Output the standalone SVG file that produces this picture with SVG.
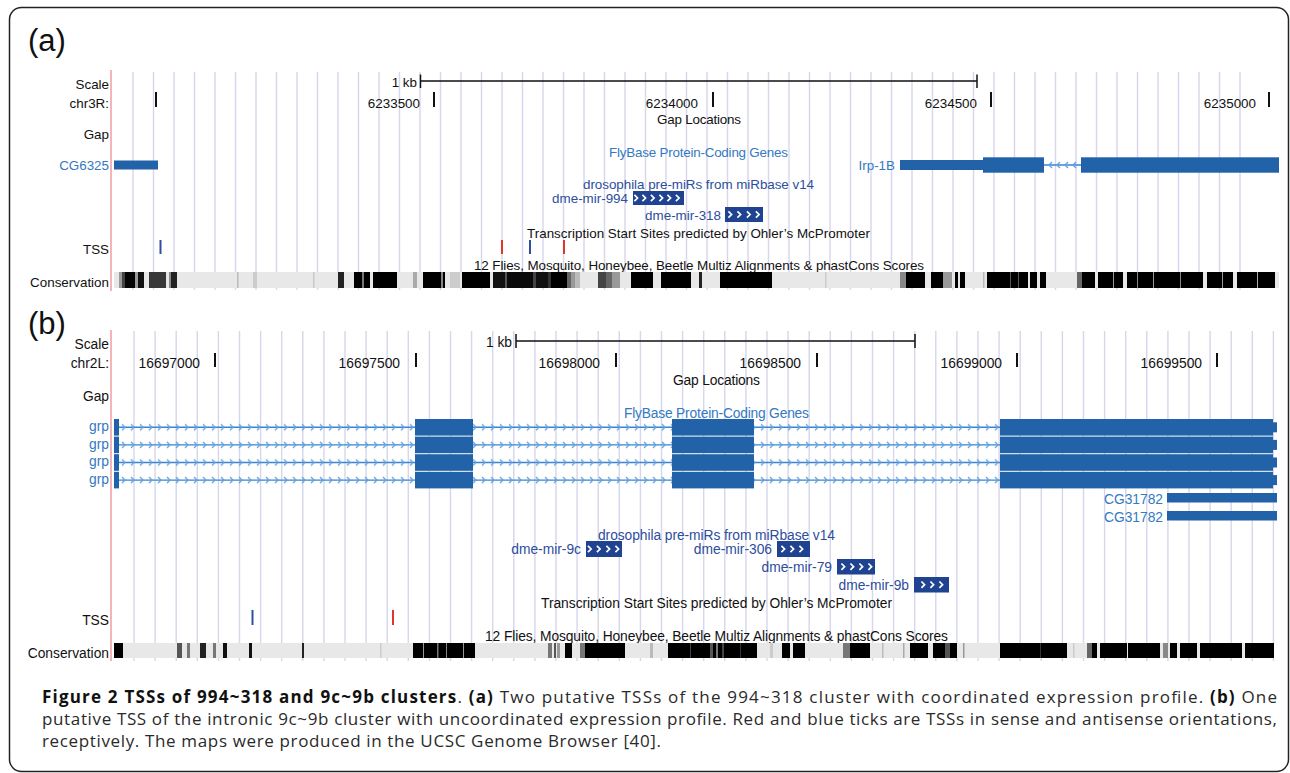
<svg xmlns="http://www.w3.org/2000/svg" width="1290" height="773" viewBox="0 0 1290 773">
<style>
text{font-family:"Liberation Sans",Arial,sans-serif;fill:#111}
.a{font-size:13.4px}
.b{font-size:13.8px}
.end{text-anchor:end}
.mid{text-anchor:middle}
.lb{fill:#3479c2}
.mb{fill:#2d4d9d}
.exon{fill:#2262a8}
.mir{fill:#1f4391}
.grid{stroke:#d6d6ec;stroke-width:1.4;fill:none}
.redl{stroke:#f2a3a8;stroke-width:1.6}
.tick{stroke:#111;stroke-width:2}
.bar{stroke:#111;stroke-width:1.5;fill:none}
.tssR{stroke:#e3342c;stroke-width:2}
.tssB{stroke:#2f4fa3;stroke-width:2}
.chv{stroke:#fff;stroke-width:1.7;fill:none;stroke-linejoin:miter}
.intron{stroke:#3d82cc;stroke-width:1.4}
.cap{font-family:"Open Sans","Liberation Sans",sans-serif;font-size:17px;fill:#2a2a2a}
.bold{font-weight:bold;fill:#111}
</style>
<defs>
<path id="chv" class="chv" d="M-1.6,-3.2 L1.6,0 L-1.6,3.2"/>
<pattern id="chevR" patternUnits="userSpaceOnUse" x="119" y="-4" width="9" height="8">
<path d="M3,1 L6,4 L3,7" stroke="#5ea2e2" stroke-width="1.3" fill="none"/>
</pattern>
<g id="grpTx">
<line class="intron" x1="119" y1="0" x2="1000" y2="0"/>
<rect x="119" y="-4" width="296" height="8" fill="url(#chevR)"/>
<rect x="473" y="-4" width="199" height="8" fill="url(#chevR)"/>
<rect x="754" y="-4" width="246" height="8" fill="url(#chevR)"/>
<rect class="exon" x="114" y="-8.3" width="5" height="16.6"/>
<rect class="exon" x="415" y="-8.3" width="58" height="16.6"/>
<rect class="exon" x="672" y="-8.3" width="82" height="16.6"/>
<rect class="exon" x="1000" y="-8.3" width="273" height="16.6"/>
<rect class="exon" x="1273" y="-5" width="4" height="10"/>
</g>
</defs>
<rect x="0" y="0" width="1290" height="773" fill="#fff"/>
<rect x="9.5" y="7.5" width="1279" height="764" rx="12" fill="none" stroke="#222" stroke-width="1.5"/>

<!-- ================= PANEL A ================= -->
<g id="panel-a">
<text x="28" y="50.5" style="font-size:31px">(a)</text>
<path class="grid" d="M133,72v218m20.5-218v218m20.5-218v218m20.5-218v218m20.5-218v218m20.5-218v218m20.5-218v218m20.5-218v218m20.5-218v218m20.5-218v218m20.5-218v218m20.5-218v218m20.5-218v218m20.5-218v218m20.5-218v218m20.5-218v218m20.5-218v218m20.5-218v218m20.5-218v218m20.5-218v218m20.5-218v218m20.5-218v218m20.5-218v218m20.5-218v218m20.5-218v218m20.5-218v218m20.5-218v218m20.5-218v218m20.5-218v218m20.5-218v218m20.5-218v218m20.5-218v218m20.5-218v218m20.5-218v218m20.5-218v218m20.5-218v218m20.5-218v218m20.5-218v218m20.5-218v218m20.5-218v218m20.5-218v218m20.5-218v218m20.5-218v218m20.5-218v218m20.5-218v218m20.5-218v218m20.5-218v218m20.5-218v218m20.5-218v218m20.5-218v218m20.5-218v218m20.5-218v218m20.5-218v218m20.5-218v218m20.5-218v218"/>
<line class="redl" x1="111" y1="70" x2="111" y2="291"/>

<g id="labels-a" class="a">
<text class="end" x="109" y="89">Scale</text>
<text class="end" x="109" y="108">chr3R:</text>
<text class="end" x="109" y="139">Gap</text>
<text class="end lb" x="109" y="170">CG6325</text>
<text class="end" x="109" y="254">TSS</text>
<text class="end" x="109" y="287">Conservation</text>
</g>

<g id="scale-a">
<text class="a end" x="417" y="87">1 kb</text>
<path class="bar" d="M420.5,74.5V88M420.5,81H977M977,74.5V88"/>
<line class="tick" x1="156" y1="92" x2="156" y2="107"/>
<text class="a end" x="420" y="107.5">6233500</text>
<line class="tick" x1="434" y1="92" x2="434" y2="107"/>
<text class="a end" x="698" y="107.5">6234000</text>
<line class="tick" x1="713" y1="92" x2="713" y2="107"/>
<text class="a end" x="977" y="107.5">6234500</text>
<line class="tick" x1="991" y1="92" x2="991" y2="107"/>
<text class="a end" x="1256" y="107.5">6235000</text>
<line class="tick" x1="1269" y1="92" x2="1269" y2="107"/>
</g>

<text class="a mid" x="699" y="124" textLength="84">Gap Locations</text>

<g id="genes-a">
<text class="a mid lb" x="698.5" y="157" textLength="179">FlyBase Protein-Coding Genes</text>
<rect class="exon" x="114" y="160.5" width="44" height="9"/>
<text class="a end lb" x="895" y="170">Irp-1B</text>
<rect class="exon" x="900" y="160" width="83" height="10"/>
<rect class="exon" x="983" y="157.3" width="61" height="15.4"/>
<line class="intron" x1="1044" y1="165" x2="1081" y2="165"/>
<path d="M1052,162 L1049,165 L1052,168 M1060,162 L1057,165 L1060,168 M1068,162 L1065,165 L1068,168 M1076,162 L1073,165 L1076,168" stroke="#5ea2e2" stroke-width="1.3" fill="none"/>
<rect class="exon" x="1081" y="157.3" width="198" height="15.4"/>
</g>

<g id="mirs-a">
<text class="a mid mb" x="698.5" y="189" textLength="231">drosophila pre-miRs from miRbase v14</text>
<g id="mir-994">
<text class="a end mb" x="628" y="203">dme-mir-994</text>
<rect class="mir" x="633" y="191" width="51" height="14"/>
<use href="#chv" x="636" y="198"/><use href="#chv" x="644" y="198"/><use href="#chv" x="652.5" y="198"/><use href="#chv" x="661" y="198"/><use href="#chv" x="669" y="198"/><use href="#chv" x="677.5" y="198"/>
</g>
<g id="mir-318">
<text class="a end mb" x="721" y="220">dme-mir-318</text>
<rect class="mir" x="725" y="207" width="38" height="15"/>
<use href="#chv" x="730" y="214.5"/><use href="#chv" x="739" y="214.5"/><use href="#chv" x="748.5" y="214.5"/><use href="#chv" x="757.5" y="214.5"/>
</g>
</g>

<g id="tss-a">
<text class="a mid" x="698.5" y="238" textLength="343">Transcription Start Sites predicted by Ohler’s McPromoter</text>
<line class="tssB" x1="160.5" y1="240" x2="160.5" y2="254"/>
<line class="tssR" x1="502" y1="240" x2="502" y2="254"/>
<line class="tssB" x1="530" y1="240" x2="530" y2="254"/>
<line class="tssR" x1="564" y1="240" x2="564" y2="254"/>
</g>

<text class="a mid" x="699" y="270" textLength="450">12 Flies, Mosquito, Honeybee, Beetle Multiz Alignments &amp; phastCons Scores</text>

<g id="cons-a" transform="translate(0,272)">
<rect x="114" y="0" width="1165" height="16" fill="#e8e8e8"/>
<rect x="119" y="0" width="3" height="16" fill="#999"/>
<rect x="122" y="0" width="3" height="16" fill="#444"/>
<rect x="125" y="0" width="10" height="16" fill="#050505"/>
<rect x="135" y="0" width="3" height="16" fill="#999"/>
<rect x="138" y="0" width="6" height="16" fill="#111"/>
<rect x="149" y="0" width="17" height="16" fill="#383838"/>
<rect x="169" y="0" width="2" height="16" fill="#888"/>
<rect x="171" y="0" width="6" height="16" fill="#222"/>
<rect x="237" y="0" width="1.5" height="16" fill="#bbb"/>
<rect x="253" y="0" width="4" height="16" fill="#ccc"/>
<rect x="313" y="0" width="1.5" height="16" fill="#c8c8c8"/>
<rect x="338" y="0" width="6" height="16" fill="#222"/>
<rect x="354" y="0" width="8" height="16" fill="#000"/>
<rect x="362" y="0" width="2" height="16" fill="#777"/>
<rect x="364" y="0" width="6" height="16" fill="#000"/>
<rect x="373" y="0" width="24" height="16" fill="#000"/>
<rect x="413" y="0" width="4" height="16" fill="#aaa"/>
<rect x="423" y="0" width="18" height="16" fill="#000"/>
<rect x="441" y="0" width="2" height="16" fill="#888"/>
<rect x="443" y="0" width="2" height="16" fill="#000"/>
<rect x="450" y="0" width="10" height="16" fill="#ccc"/>
<rect x="462" y="0" width="28" height="16" fill="#000"/>
<rect x="493" y="0" width="12" height="16" fill="#111"/>
<rect x="505" y="0" width="2" height="16" fill="#555"/>
<rect x="507" y="0" width="26" height="16" fill="#0a0a0a"/>
<rect x="533" y="0" width="3" height="16" fill="#444"/>
<rect x="536" y="0" width="12" height="16" fill="#111"/>
<rect x="548" y="0" width="3" height="16" fill="#333"/>
<rect x="551" y="0" width="16" height="16" fill="#000"/>
<rect x="567" y="0" width="4" height="16" fill="#666"/>
<rect x="571" y="0" width="4" height="16" fill="#999"/>
<rect x="575" y="0" width="5" height="16" fill="#bbb"/>
<rect x="598" y="0" width="8" height="16" fill="#444"/>
<rect x="606" y="0" width="6" height="16" fill="#666"/>
<rect x="612" y="0" width="8" height="16" fill="#999"/>
<rect x="631" y="0" width="22" height="16" fill="#000"/>
<rect x="661" y="0" width="30" height="16" fill="#000"/>
<rect x="699" y="0" width="3" height="16" fill="#222"/>
<rect x="720" y="0" width="52" height="16" fill="#000"/>
<rect x="825" y="0" width="1.5" height="16" fill="#ccc"/>
<rect x="900" y="0" width="6" height="16" fill="#888"/>
<rect x="906" y="0" width="19" height="16" fill="#000"/>
<rect x="931" y="0" width="12" height="16" fill="#000"/>
<rect x="943" y="0" width="9" height="16" fill="#999"/>
<rect x="955" y="0" width="3" height="16" fill="#000"/>
<rect x="960" y="0" width="5" height="16" fill="#000"/>
<rect x="983" y="0" width="1.5" height="16" fill="#bbb"/>
<rect x="987" y="0" width="41" height="16" fill="#000"/>
<rect x="1010" y="0" width="1" height="16" fill="#555"/>
<rect x="1018" y="0" width="1" height="16" fill="#555"/>
<rect x="1030" y="0" width="7" height="16" fill="#000"/>
<rect x="1040" y="0" width="6" height="16" fill="#000"/>
<rect x="1077" y="0" width="5" height="16" fill="#666"/>
<rect x="1082" y="0" width="13" height="16" fill="#000"/>
<rect x="1098" y="0" width="25" height="16" fill="#000"/>
<rect x="1127" y="0" width="76" height="16" fill="#000"/>
<rect x="1207" y="0" width="26" height="16" fill="#000"/>
<rect x="1237" y="0" width="38" height="16" fill="#000"/>
<rect x="1113" y="0" width="1" height="16" fill="#999"/>
<rect x="1137" y="0" width="1" height="16" fill="#888"/>
<rect x="1153" y="0" width="1" height="16" fill="#999"/>
<rect x="1180" y="0" width="1" height="16" fill="#888"/>
<rect x="1222" y="0" width="1" height="16" fill="#999"/>
<rect x="1257" y="0" width="1" height="16" fill="#aaa"/>
</g>
</g>

<!-- ================= PANEL B ================= -->
<g id="panel-b">
<text x="28" y="333.5" style="font-size:31px">(b)</text>
<path class="grid" d="M134,331v330m21.1-330v330m21.1-330v330m21.1-330v330m21.1-330v330m21.1-330v330m21.1-330v330m21.1-330v330m21.1-330v330m21.1-330v330m21.1-330v330m21.1-330v330m21.1-330v330m21.1-330v330m21.1-330v330m21.1-330v330m21.1-330v330m21.1-330v330m21.1-330v330m21.1-330v330m21.1-330v330m21.1-330v330m21.1-330v330m21.1-330v330m21.1-330v330m21.1-330v330m21.1-330v330m21.1-330v330m21.1-330v330m21.1-330v330m21.1-330v330m21.1-330v330m21.1-330v330m21.1-330v330m21.1-330v330m21.1-330v330m21.1-330v330m21.1-330v330m21.1-330v330m21.1-330v330m21.1-330v330m21.1-330v330m21.1-330v330m21.1-330v330m21.1-330v330m21.1-330v330m21.1-330v330m21.1-330v330m21.1-330v330m21.1-330v330m21.1-330v330m21.1-330v330m21.1-330v330m21.1-330v330m21.1-330v330"/>
<line class="redl" x1="111" y1="330" x2="111" y2="661"/>

<g id="labels-b" class="b">
<text class="end" x="109" y="349">Scale</text>
<text class="end" x="109" y="368">chr2L:</text>
<text class="end" x="109" y="401">Gap</text>
<text class="end lb" x="109" y="431">grp</text>
<text class="end lb" x="109" y="448.7">grp</text>
<text class="end lb" x="109" y="466.3">grp</text>
<text class="end lb" x="109" y="484">grp</text>
<text class="end" x="109" y="625">TSS</text>
<text class="end" x="109" y="658">Conservation</text>
</g>

<g id="scale-b">
<text class="b end" x="512" y="347">1 kb</text>
<path class="bar" d="M516,334V348M516,341H915M915,334V348"/>
<text class="b end" x="200" y="368">16697000</text>
<line class="tick" x1="215" y1="353" x2="215" y2="367"/>
<text class="b end" x="400" y="368">16697500</text>
<line class="tick" x1="416" y1="353" x2="416" y2="367"/>
<text class="b end" x="600" y="368">16698000</text>
<line class="tick" x1="616" y1="353" x2="616" y2="367"/>
<text class="b end" x="801" y="368">16698500</text>
<line class="tick" x1="817" y1="353" x2="817" y2="367"/>
<text class="b end" x="1002" y="368">16699000</text>
<line class="tick" x1="1017" y1="353" x2="1017" y2="367"/>
<text class="b end" x="1202" y="368">16699500</text>
<line class="tick" x1="1217" y1="353" x2="1217" y2="367"/>
</g>

<text class="b mid" x="716.5" y="385" textLength="87">Gap Locations</text>

<g id="genes-b">
<text class="b mid lb" x="716.5" y="418" textLength="185">FlyBase Protein-Coding Genes</text>
<use href="#grpTx" y="427.3"/>
<use href="#grpTx" y="444.9"/>
<use href="#grpTx" y="462.5"/>
<use href="#grpTx" y="480.1"/>
<text class="b end lb" x="1163" y="504">CG31782</text>
<rect class="exon" x="1167" y="493" width="110" height="9.5"/>
<text class="b end lb" x="1163" y="521.5">CG31782</text>
<rect class="exon" x="1167" y="511" width="110" height="9.5"/>
</g>

<g id="mirs-b">
<text class="b mid mb" x="716.5" y="540" textLength="237">drosophila pre-miRs from miRbase v14</text>
<g id="mir-9c">
<text class="b end mb" x="581" y="554">dme-mir-9c</text>
<rect class="mir" x="586" y="541" width="36" height="16"/>
<use href="#chv" x="589.5" y="549"/><use href="#chv" x="598.5" y="549"/><use href="#chv" x="608" y="549"/><use href="#chv" x="617" y="549"/>
</g>
<g id="mir-306">
<text class="b end mb" x="772" y="554">dme-mir-306</text>
<rect class="mir" x="777" y="541" width="33" height="16"/>
<use href="#chv" x="783" y="549"/><use href="#chv" x="792" y="549"/><use href="#chv" x="801" y="549"/>
</g>
<g id="mir-79">
<text class="b end mb" x="832" y="572">dme-mir-79</text>
<rect class="mir" x="837" y="559" width="38" height="15.5"/>
<use href="#chv" x="843" y="566.7"/><use href="#chv" x="852" y="566.7"/><use href="#chv" x="861" y="566.7"/><use href="#chv" x="870" y="566.7"/>
</g>
<g id="mir-9b">
<text class="b end mb" x="909" y="590">dme-mir-9b</text>
<rect class="mir" x="914" y="577" width="35" height="15.5"/>
<use href="#chv" x="923" y="584.7"/><use href="#chv" x="932" y="584.7"/><use href="#chv" x="941" y="584.7"/>
</g>
</g>

<g id="tss-b">
<text class="b mid" x="716.5" y="608" textLength="351">Transcription Start Sites predicted by Ohler’s McPromoter</text>
<line class="tssB" x1="252.5" y1="610" x2="252.5" y2="625"/>
<line class="tssR" x1="393" y1="610" x2="393" y2="625"/>
</g>

<text class="b mid" x="716.5" y="641" textLength="463">12 Flies, Mosquito, Honeybee, Beetle Multiz Alignments &amp; phastCons Scores</text>

<g id="cons-b" transform="translate(0,643)">
<rect x="114" y="0" width="1160" height="15" fill="#e8e8e8"/>
<rect x="114" y="0" width="9" height="15" fill="#000"/>
<rect x="177" y="0" width="5" height="15" fill="#555"/>
<rect x="187" y="0" width="3" height="15" fill="#777"/>
<rect x="200" y="0" width="6" height="15" fill="#222"/>
<rect x="213" y="0" width="3" height="15" fill="#777"/>
<rect x="223" y="0" width="4" height="15" fill="#111"/>
<rect x="249" y="0" width="3" height="15" fill="#111"/>
<rect x="302" y="0" width="2" height="15" fill="#222"/>
<rect x="380" y="0" width="1.5" height="15" fill="#ccc"/>
<rect x="413" y="0" width="62" height="15" fill="#000"/>
<rect x="423" y="0" width="1" height="15" fill="#999"/>
<rect x="437" y="0" width="1.5" height="15" fill="#777"/>
<rect x="446" y="0" width="1" height="15" fill="#888"/>
<rect x="463" y="0" width="1" height="15" fill="#999"/>
<rect x="548" y="0" width="4" height="15" fill="#777"/>
<rect x="554" y="0" width="2" height="15" fill="#555"/>
<rect x="557" y="0" width="3" height="15" fill="#999"/>
<rect x="565" y="0" width="7" height="15" fill="#000"/>
<rect x="580" y="0" width="5" height="15" fill="#777"/>
<rect x="585" y="0" width="40" height="15" fill="#000"/>
<rect x="650" y="0" width="3" height="15" fill="#bbb"/>
<rect x="668" y="0" width="89" height="15" fill="#000"/>
<rect x="690" y="0" width="1" height="15" fill="#444"/>
<rect x="710" y="0" width="3" height="15" fill="#555"/>
<rect x="716" y="0" width="2" height="15" fill="#777"/>
<rect x="722" y="0" width="2" height="15" fill="#444"/>
<rect x="740" y="0" width="1" height="15" fill="#333"/>
<rect x="770" y="0" width="3" height="15" fill="#ccc"/>
<rect x="782" y="0" width="8" height="15" fill="#000"/>
<rect x="793" y="0" width="12" height="15" fill="#000"/>
<rect x="843" y="0" width="7" height="15" fill="#777"/>
<rect x="850" y="0" width="20" height="15" fill="#000"/>
<rect x="882" y="0" width="1.5" height="15" fill="#bbb"/>
<rect x="903" y="0" width="1.5" height="15" fill="#aaa"/>
<rect x="910" y="0" width="18" height="15" fill="#000"/>
<rect x="933" y="0" width="12" height="15" fill="#000"/>
<rect x="945" y="0" width="5" height="15" fill="#555"/>
<rect x="950" y="0" width="7" height="15" fill="#000"/>
<rect x="963" y="0" width="1.5" height="15" fill="#999"/>
<rect x="1000" y="0" width="67" height="15" fill="#000"/>
<rect x="1040" y="0" width="1" height="15" fill="#333"/>
<rect x="1073" y="0" width="1.5" height="15" fill="#ccc"/>
<rect x="1087" y="0" width="5" height="15" fill="#666"/>
<rect x="1092" y="0" width="5" height="15" fill="#000"/>
<rect x="1100" y="0" width="27" height="15" fill="#000"/>
<rect x="1128" y="0" width="32" height="15" fill="#000"/>
<rect x="1163" y="0" width="5" height="15" fill="#888"/>
<rect x="1170" y="0" width="7" height="15" fill="#000"/>
<rect x="1180" y="0" width="17" height="15" fill="#000"/>
<rect x="1200" y="0" width="42" height="15" fill="#000"/>
<rect x="1245" y="0" width="29" height="15" fill="#000"/>
</g>
</g>

<!-- ================= CAPTION ================= -->
<g id="caption">
<text class="cap" x="42" y="703" textLength="1235" lengthAdjust="spacing"><tspan class="bold">Figure 2 TSSs of 994~318 and 9c~9b clusters</tspan>. <tspan class="bold">(a)</tspan> Two putative TSSs of the 994~318 cluster with coordinated expression profile. <tspan class="bold">(b)</tspan> One</text>
<text class="cap" x="42" y="725" textLength="1235" lengthAdjust="spacing">putative TSS of the intronic 9c~9b cluster with uncoordinated expression profile. Red and blue ticks are TSSs in sense and antisense orientations,</text>
<text class="cap" x="42" y="747" textLength="619" lengthAdjust="spacing">receptively. The maps were produced in the UCSC Genome Browser [40].</text>
</g>
</svg>
